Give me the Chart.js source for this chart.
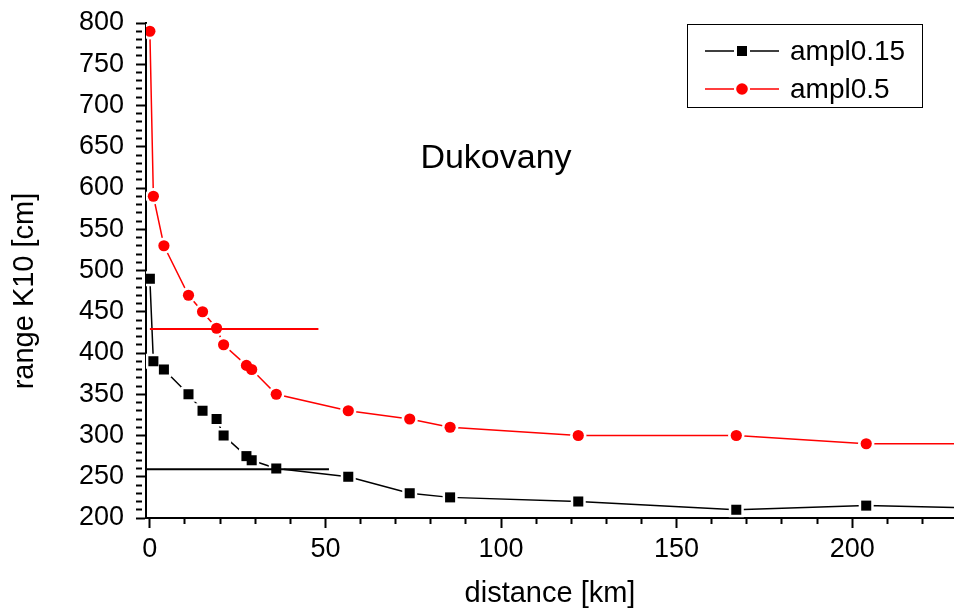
<!DOCTYPE html>
<html>
<head>
<meta charset="utf-8">
<script src="https://cdn.jsdelivr.net/npm/chart.js@4.4.0/dist/chart.umd.min.js"></script>
<style>
  html, body { margin: 0; padding: 0; background: #fff; }
  #wrap { width: 954px; height: 611px; }
</style>
</head>
<body>
<div id="wrap"><canvas id="chart" width="954" height="611"></canvas></div>
<script>
// distance [km] of each measuring point (last one lies past the visible axis)
const distance = [0, 1, 4, 11, 15, 19, 21, 27.5, 29, 36, 56.5, 74, 85.5, 122, 167, 204, 250];
const ampl015 = [490, 390, 380, 350, 330, 320, 300, 275, 270, 260, 250, 230, 225, 220, 210, 215, 211];
const ampl05 = [790, 590, 530, 470, 450, 430, 410, 385, 380, 350, 330, 320, 310, 300, 300, 290, 290];

// horizontal reference lines
const limit015X = [-1, 51];
const limit015Y = [259, 259];
const limit05X = [0, 48];
const limit05Y = [429, 429];

const xTickLabels = [0, 50, 100, 150, 200];
const yTickLabels = [200, 250, 300, 350, 400, 450, 500, 550, 600, 650, 700, 750, 800];

const FONT = "'Liberation Sans', Arial, sans-serif";
const pts = (xs, ys) => xs.map((x, i) => ({ x: x, y: ys[i] }));

const overlay = {
  id: 'overlay',
  afterDraw(chart) {
    const ctx = chart.ctx;
    ctx.save();
    ctx.fillStyle = '#000';

    // y axis title
    ctx.save();
    ctx.translate(33, 291);
    ctx.rotate(-Math.PI / 2);
    ctx.font = '29px ' + FONT;
    ctx.textAlign = 'center';
    ctx.textBaseline = 'alphabetic';
    ctx.fillText('range K10 [cm]', 0, 0);
    ctx.restore();

    // label inside the plot
    ctx.font = '34px ' + FONT;
    ctx.textAlign = 'center';
    ctx.textBaseline = 'alphabetic';
    ctx.fillText('Dukovany', 496, 168);

    // legend box
    ctx.strokeStyle = '#000';
    ctx.lineWidth = 1;
    ctx.strokeRect(687.5, 24.5, 235, 83);
    const rows = chart.data.datasets.filter(d => d.label);
    rows.forEach((d, i) => {
      const y = 51 + i * 38;
      ctx.strokeStyle = d.borderColor;
      ctx.lineWidth = 1.5;
      ctx.beginPath();
      ctx.moveTo(705, y); ctx.lineTo(734, y);
      ctx.moveTo(750, y); ctx.lineTo(779, y);
      ctx.stroke();
      ctx.fillStyle = d.pointBackgroundColor;
      if (d.pointStyle === 'rect') {
        ctx.fillRect(737, y - 5, 10, 10);
      } else {
        ctx.beginPath();
        ctx.arc(742, y, 5.8, 0, Math.PI * 2);
        ctx.fill();
      }
      ctx.fillStyle = '#000';
      ctx.font = '28px ' + FONT;
      ctx.textAlign = 'left';
      ctx.textBaseline = 'middle';
      ctx.fillText(d.label, 790, y + 1);
    });
    ctx.restore();
  }
};

const minorDash = (labels, len) => c => (c.tick && labels.includes(c.tick.value)) ? [] : [len, 60];

// tick every 10 units inside the axis range
const tensIn = s => {
  const out = [];
  for (let v = Math.ceil(s.min / 10) * 10; v <= s.max; v += 10) out.push({ value: v });
  s.ticks = out;
};

// one series = line, white halo round the markers (gaps in the line), markers
function series(label, ys, color, style, r, haloR, order) {
  const data = pts(distance, ys);
  return [
    { label: label, data: data, borderColor: color, borderWidth: 1.5, pointRadius: 0,
      pointStyle: style, pointBackgroundColor: color, order: order + 2 },
    { data: data, showLine: false, pointStyle: style, pointRadius: haloR,
      pointBackgroundColor: '#fff', pointBorderWidth: 0, order: order + 1 },
    { data: data, showLine: false, pointStyle: style, pointRadius: r,
      pointBackgroundColor: color, pointBorderWidth: 0, order: order }
  ];
}

new Chart(document.getElementById('chart'), {
  type: 'line',
  data: {
    datasets: [
      { data: pts(limit015X, limit015Y), borderColor: '#000', borderWidth: 2,
        pointRadius: 0, order: 0 },
      { data: pts(limit05X, limit05Y), borderColor: '#ff0000', borderWidth: 2,
        pointRadius: 0, order: 0 },
      ...series('ampl0.15', ampl015, '#000', 'rect', 7.1, 10.6, 1),
      ...series('ampl0.5', ampl05, '#ff0000', 'circle', 5.6, 8.2, 1)
    ]
  },
  options: {
    responsive: false,
    devicePixelRatio: 1,
    animation: false,
    events: [],
    tension: 0,
    layout: { autoPadding: false, padding: { top: 23, right: 0, left: 0, bottom: 0 } },
    plugins: { legend: { display: false }, tooltip: { enabled: false } },
    scales: {
      x: {
        type: 'linear', min: -1.1, max: 229,
        border: { display: true, color: '#000', width: 2 },
        grid: { drawOnChartArea: false, tickLength: 10, tickWidth: 2, tickColor: '#000',
                tickBorderDash: minorDash(xTickLabels, 5) },
        ticks: { autoSkip: false, maxRotation: 0, padding: 5,
                 color: '#000', font: { family: FONT, size: 27 },
                 callback: v => xTickLabels.includes(v) ? String(v) : '' },
        title: { display: true, text: 'distance [km]', color: '#000',
                 font: { family: FONT, size: 29 }, padding: { top: 0, bottom: 0 } },
        afterBuildTicks: tensIn,
        afterFit: s => { s.height = 93; s.paddingLeft = 0; s.paddingRight = 0; }
      },
      y: {
        type: 'linear', min: 200, max: 800,
        border: { display: true, color: '#000', width: 2 },
        grid: { drawOnChartArea: false, tickLength: 10, tickWidth: 2, tickColor: '#000',
                tickBorderDash: minorDash(yTickLabels, 6) },
        ticks: { autoSkip: false, padding: 12,
                 color: '#000', font: { family: FONT, size: 27 },
                 callback: v => yTickLabels.includes(v) ? String(v) : '' },
        afterBuildTicks: tensIn,
        afterFit: s => { s.width = 146; s.paddingTop = 0; s.paddingBottom = 0; }
      }
    }
  },
  plugins: [overlay]
});
</script>
</body>
</html>
